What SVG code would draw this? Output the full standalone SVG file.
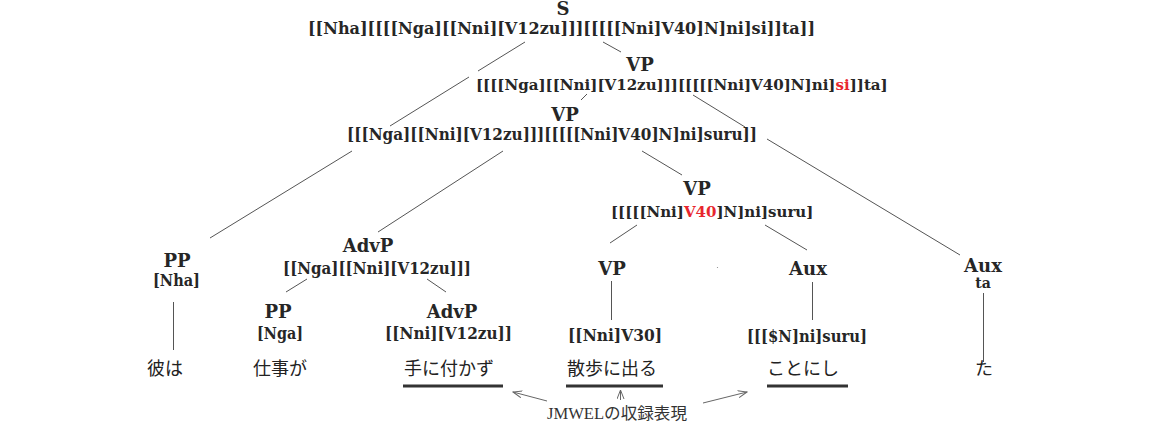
<svg xmlns="http://www.w3.org/2000/svg" width="1150" height="423" viewBox="0 0 1150 423">
<style>
.c{font-family:"DejaVu Serif","Liberation Serif",serif;font-weight:bold;font-size:18px;fill:#262626;text-anchor:middle}
.b{font-family:"DejaVu Serif","Liberation Serif",serif;font-weight:bold;font-size:16.5px;fill:#262626}
.t{font-family:"DejaVu Serif","Liberation Serif",serif;font-weight:bold;font-size:14px;fill:#262626;text-anchor:middle}
.r{fill:#e8262e}
.j{font-family:"Noto Sans CJK JP",sans-serif;font-size:18px;fill:#222}
.n{font-family:"Liberation Serif","Noto Sans CJK JP",serif;font-size:16px;fill:#333}
.l{stroke:#555;stroke-width:1;fill:none}
.a{stroke:#666;stroke-width:1;fill:none;marker-end:url(#ah)}
.u{fill:#333}
</style>
<defs>
<marker id="ah" viewBox="0 0 10 8" refX="9" refY="4" markerWidth="10" markerHeight="8" markerUnits="userSpaceOnUse" orient="auto">
<path d="M0,0.5 L9,4 L0,7.5" fill="none" stroke="#666" stroke-width="1"/>
</marker>
</defs>
<rect width="1150" height="423" fill="#fff"/>
<g id="connectors">
<line class="l" x1="525" y1="42" x2="478" y2="71"/>
<line class="l" x1="469" y1="77" x2="390" y2="126"/>
<line class="l" x1="352" y1="151" x2="210" y2="238"/>
<line class="l" x1="603" y1="42" x2="621" y2="52"/>
<line class="l" x1="587" y1="94" x2="581" y2="100"/>
<line class="l" x1="693" y1="95" x2="745" y2="127"/>
<line class="l" x1="767" y1="139" x2="960" y2="255"/>
<line class="l" x1="503" y1="151" x2="378" y2="232"/>
<line class="l" x1="642" y1="151" x2="682" y2="175"/>
<line class="l" x1="637" y1="225" x2="610" y2="243"/>
<line class="l" x1="765" y1="225" x2="807" y2="250"/>
<line class="l" x1="307" y1="279" x2="286" y2="292"/>
<line class="l" x1="427" y1="279" x2="446" y2="292"/>
<line class="l" x1="173.5" y1="302" x2="173.5" y2="350"/>
<line class="l" x1="611.5" y1="281" x2="611.5" y2="320"/>
<line class="l" x1="812.5" y1="282" x2="812.5" y2="320"/>
<line class="l" x1="983.5" y1="293" x2="983.5" y2="362"/>
<line class="a" x1="547" y1="401" x2="513" y2="392"/>
<line class="a" x1="620.5" y1="400" x2="620.5" y2="390"/>
<line class="a" x1="703" y1="403" x2="747" y2="392"/>
</g>
<g id="S">
<text class="c" x="563" y="15">S</text>
<text class="b" x="308" y="34" textLength="507" lengthAdjust="spacingAndGlyphs">[[Nha][[[[Nga][[Nni][V12zu]]][[[[[Nni]V40]N]ni]si]]ta]]</text>
</g>
<g id="VP1">
<text class="c" x="640" y="71">VP</text>
<text class="b" x="476" y="90" style="font-size:15.05px">[[[[Nga][[Nni][V12zu]]][[[[[Nni]V40]N]ni]<tspan class="r">si</tspan>]]ta]</text>
</g>
<g id="VP2">
<text class="c" x="565" y="121">VP</text>
<text class="b" x="347" y="140" textLength="410" lengthAdjust="spacingAndGlyphs">[[[Nga][[Nni][V12zu]]][[[[[Nni]V40]N]ni]suru]]</text>
</g>
<g id="VP3">
<text class="c" x="697" y="195">VP</text>
<text class="b" x="611" y="217" style="font-size:15px">[[[[[Nni]<tspan class="r">V40</tspan>]N]ni]suru]</text>
</g>
<g id="PP1">
<text class="c" x="177" y="267">PP</text>
<text class="b" x="153" y="286" textLength="47" lengthAdjust="spacingAndGlyphs">[Nha]</text>
</g>
<g id="AdvP1">
<text class="c" x="368" y="252">AdvP</text>
<text class="b" x="283" y="274" textLength="188" lengthAdjust="spacingAndGlyphs">[[Nga][[Nni][V12zu]]]</text>
</g>
<g id="PP2">
<text class="c" x="278" y="318">PP</text>
<text class="b" x="257" y="339" textLength="46" lengthAdjust="spacingAndGlyphs">[Nga]</text>
</g>
<g id="AdvP2">
<text class="c" x="452" y="318">AdvP</text>
<text class="b" x="385" y="339" textLength="127" lengthAdjust="spacingAndGlyphs">[[Nni][V12zu]]</text>
</g>
<g id="VP4">
<text class="c" x="612" y="275">VP</text>
<text class="b" x="568" y="341" textLength="94" lengthAdjust="spacingAndGlyphs">[[Nni]V30]</text>
</g>
<g id="Aux1">
<text class="c" x="808" y="275">Aux</text>
<text class="b" x="747" y="342" textLength="120" lengthAdjust="spacingAndGlyphs">[[[$N]ni]suru]</text>
</g>
<g id="Aux2">
<text class="c" x="983" y="272">Aux</text>
<text class="t" x="983" y="288">ta</text>
</g>
<g id="w1"><text class="j" x="147" y="375">彼は</text></g>
<g id="w2"><text class="j" x="253" y="375">仕事が</text></g>
<g id="w3"><text class="j" x="404" y="375">手に付かず</text><rect class="u" x="403" y="384.5" width="100" height="3"/></g>
<g id="w4"><text class="j" x="567" y="375">散歩に出る</text><rect class="u" x="566" y="384.5" width="97" height="3"/></g>
<g id="w5"><text class="j" x="767" y="375">ことにし</text><rect class="u" x="767" y="384.5" width="81" height="3"/></g>
<g id="w6"><text class="j" x="975" y="375">た</text></g>
<g id="note"><text class="n" x="547" y="419" textLength="140" lengthAdjust="spacingAndGlyphs">JMWELの収録表現</text></g>
<circle cx="717.5" cy="267.5" r="0.6" fill="#888"/>
</svg>
